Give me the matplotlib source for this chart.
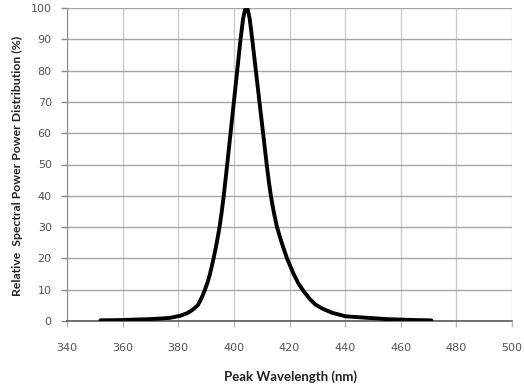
import matplotlib
matplotlib.use("Agg")
import matplotlib.pyplot as plt

wavelength_nm = [352, 360, 366, 370, 374, 377, 380.8, 383.2, 385.2, 387.0, 387.8,
                 388.7, 389.6, 390.6, 391.4, 392.7, 393.85, 394.85, 395.65, 396.35,
                 397.6, 398.8, 400.0, 401.2, 402.4, 403.3, 404, 404.5, 405, 405.7,
                 406.6, 407.9, 409.2, 410.5, 411.8, 412.5, 413.3, 414.3, 415.5,
                 417.2, 419.1, 421.5, 423.2, 425.1, 427.2, 429.4, 432.2, 435.4,
                 440.2, 445, 450, 455, 460, 465, 471]
relative_power = [0.2, 0.3, 0.5, 0.6, 0.8, 1.0, 1.7, 2.5, 3.6, 5.0, 6.3,
                  8.0, 10, 12.5, 15, 20, 25, 30, 35, 40,
                  50, 60, 70, 80, 90, 96.5, 99.4, 100, 99.5, 96.5,
                  90, 80, 70, 60, 50, 45, 40, 35, 30,
                  25, 20, 15, 12, 9.5, 7.1, 5.2, 3.8, 2.6,
                  1.5, 1.2, 0.9, 0.6, 0.45, 0.3, 0.2]

x_ticks = [340, 360, 380, 400, 420, 440, 460, 480, 500]
y_ticks = [0, 10, 20, 30, 40, 50, 60, 70, 80, 90, 100]
x_label = "Peak Wavelength (nm)"
y_label = "Relative  Spectral Power Power Distribution (%)"

fig = plt.figure(figsize=(5.24, 3.92), dpi=100)
ax = fig.add_axes([67/524, 1-321/392, (512-67)/524, (321-8)/392])

ax.plot(wavelength_nm, relative_power, color="black", lw=2.8,
        solid_joinstyle="round", solid_capstyle="round", zorder=3)

ax.set_xlim(340, 500)
ax.set_ylim(0, 100)
ax.set_xticks(x_ticks)
ax.set_yticks(y_ticks)

ax.yaxis.grid(True, color="#a6a6a6", lw=1.0)
ax.xaxis.grid(True, color="#cccccc", lw=1.0)
ax.set_axisbelow(True)

for s in ["top", "right"]:
    ax.spines[s].set_visible(False)
ax.spines["left"].set_color("#8c8c8c")
ax.spines["bottom"].set_color("#5a5a5a")
ax.spines["bottom"].set_linewidth(1.2)

ax.tick_params(axis="y", length=4, width=1, color="#8c8c8c", pad=7,
               labelsize=8, labelcolor="#555555")
ax.tick_params(axis="x", length=4, width=1, color="#bbbbbb", pad=12,
               labelsize=8, labelcolor="#555555")

fig.text(17/524, 1-166/392, y_label, rotation=90, ha="center", va="center",
         fontsize=8.8, fontweight="bold", family=["Lato", "DejaVu Sans"],
         color="#222222")
fig.text(291/524, 1-377/392, x_label, ha="center", va="center",
         fontsize=9.5, fontweight="bold", family=["Lato", "DejaVu Sans"],
         color="#222222")

fig.savefig("out.png", dpi=100)
